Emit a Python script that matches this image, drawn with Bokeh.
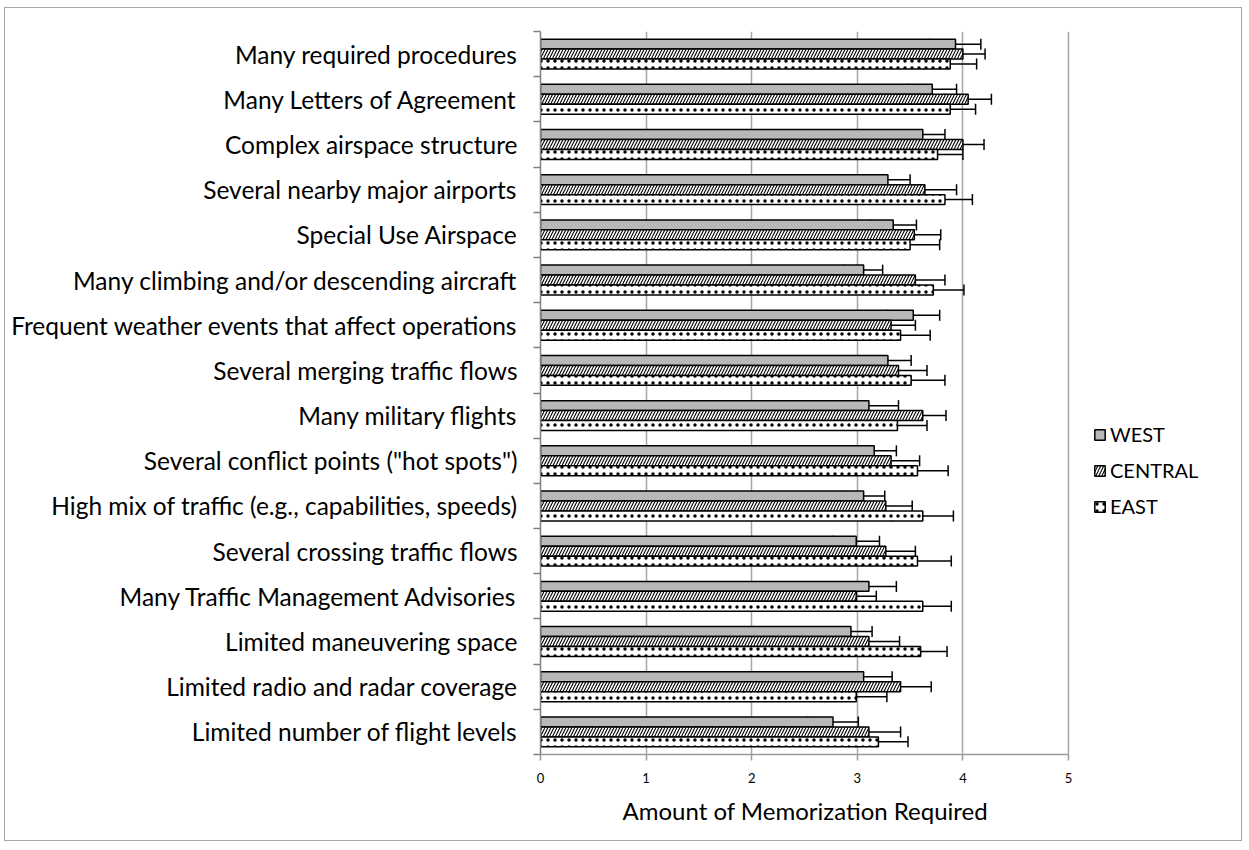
import numpy as np
from bokeh.plotting import figure
from bokeh.models import (ColumnDataSource, Range1d, FixedTicker, Whisker, TeeHead,
                          Legend, LegendItem, Title)
from bokeh.embed import file_html
from bokeh.resources import INLINE

categories = [
    "Many required procedures",
    "Many Letters of Agreement",
    "Complex airspace structure",
    "Several nearby major airports",
    "Special Use Airspace",
    "Many climbing and/or descending aircraft",
    "Frequent weather events that affect operations",
    "Several merging traffic flows",
    "Many military flights",
    "Several conflict points (\"hot spots\")",
    "High mix of traffic (e.g., capabilities, speeds)",
    "Several crossing traffic flows",
    "Many Traffic Management Advisories",
    "Limited maneuvering space",
    "Limited radio and radar coverage",
    "Limited number of flight levels",
]

series_names = ["WEST", "CENTRAL", "EAST"]

west = [3.93, 3.71, 3.62, 3.29, 3.34, 3.06, 3.53, 3.29, 3.11, 3.16, 3.06, 2.99, 3.11, 2.94, 3.06, 2.77]
west_err = [0.24, 0.23, 0.21, 0.21, 0.22, 0.18, 0.25, 0.22, 0.28, 0.21, 0.20, 0.22, 0.26, 0.20, 0.27, 0.24]

central = [4.00, 4.05, 4.00, 3.64, 3.54, 3.55, 3.32, 3.39, 3.62, 3.32, 3.27, 3.27, 2.99, 3.11, 3.41, 3.11]
central_err = [0.21, 0.22, 0.20, 0.30, 0.25, 0.28, 0.23, 0.27, 0.22, 0.27, 0.25, 0.28, 0.19, 0.29, 0.29, 0.30]

east = [3.88, 3.88, 3.76, 3.83, 3.50, 3.72, 3.41, 3.51, 3.38, 3.57, 3.62, 3.57, 3.62, 3.60, 2.99, 3.20]
east_err = [0.25, 0.24, 0.24, 0.26, 0.28, 0.29, 0.28, 0.32, 0.28, 0.29, 0.29, 0.32, 0.27, 0.25, 0.29, 0.28]

x_ticks = [0, 1, 2, 3, 4, 5]
x_title = "Amount of Memorization Required"

FONT = "Lato"
n = len(categories)
centers = np.arange(n)[::-1].astype(float)  # top category at highest y
bar_h = 0.22
offsets = [bar_h, 0.0, -bar_h]

FIG_W, FIG_H = 1238, 834
LEFT, RIGHT, TOP, BOTTOM = 535, 5, 23, 88
AXIS_PX = 528  # pixel length of the 0..5 axis
frame_w = FIG_W - LEFT - RIGHT
x_end = x_ticks[-1] * frame_w / AXIS_PX

p = figure(width=FIG_W, height=FIG_H, output_backend="svg", toolbar_location=None,
           x_range=Range1d(0, x_end), y_range=Range1d(-0.5, n - 0.5),
           min_border_left=LEFT, min_border_right=RIGHT, min_border_top=TOP,
           min_border_bottom=BOTTOM)
p.outline_line_color = None
p.background_fill_color = "white"
p.border_fill_color = "white"
p.styles = {"border": "1px solid #a6a6a6", "margin-left": "4px", "margin-top": "7px"}

# grid
p.xgrid.ticker = FixedTicker(ticks=x_ticks[1:])
p.xgrid.grid_line_color = "#a6a6a6"
p.xgrid.grid_line_width = 1.5
p.ygrid.grid_line_color = None

# x axis
p.xaxis.ticker = FixedTicker(ticks=x_ticks)
p.xaxis.bounds = (x_ticks[0], x_ticks[-1])
p.xaxis.axis_line_color = "#9a9a9a"
p.xaxis.axis_line_width = 1.5
p.xaxis.major_tick_line_color = "#9a9a9a"
p.xaxis.major_tick_line_width = 1.5
p.xaxis.major_tick_out = 6
p.xaxis.major_tick_in = 0
p.xaxis.minor_tick_line_color = None
p.xaxis.major_label_text_font = FONT
p.xaxis.major_label_text_font_size = "13px"
p.xaxis.major_label_text_color = "black"
p.xaxis.major_label_standoff = 12

# x axis title, centred under the 0..5 span
title_w = 364
xt = Title(text=x_title, align="left", offset=AXIS_PX / 2 - title_w / 2,
           text_font=FONT, text_font_size="24px", text_font_style="normal",
           text_color="black", standoff=17)
p.add_layout(xt, "below")

# y axis: labels at centers, tick marks at category boundaries
boundaries = list(np.arange(n + 1) - 0.5)
p.yaxis.ticker = FixedTicker(ticks=list(centers), minor_ticks=boundaries)
p.yaxis.major_label_overrides = {float(c): categories[i] for i, c in enumerate(centers)}
p.yaxis.major_tick_line_color = None
p.yaxis.major_tick_out = 0
p.yaxis.major_tick_in = 0
p.yaxis.minor_tick_line_color = "#808080"
p.yaxis.minor_tick_line_width = 1.5
p.yaxis.minor_tick_out = 7
p.yaxis.minor_tick_in = 0
p.yaxis.axis_line_color = "#808080"
p.yaxis.axis_line_width = 1.5
p.yaxis.major_label_text_font = FONT
p.yaxis.major_label_text_font_size = "24.5px"
p.yaxis.major_label_text_color = "black"
p.yaxis.major_label_standoff = 16

styles = [
    dict(fill_color="#b8b8b8"),
    dict(fill_color="white", hatch_pattern="right_diagonal_line", hatch_color="black",
         hatch_scale=6, hatch_weight=1.1),
    dict(fill_color="white", hatch_pattern="dot", hatch_color="black",
         hatch_scale=7, hatch_weight=1.5),
]

all_vals = [west, central, east]
all_errs = [west_err, central_err, east_err]
items = []
for k, (name, vals, errs) in enumerate(zip(series_names, all_vals, all_errs)):
    v = np.array(vals)
    e = np.array(errs)
    src = ColumnDataSource(dict(y=centers + offsets[k], x=v, lo=v - e, hi=v + e))
    r = p.hbar(y="y", right="x", left=0, height=bar_h, source=src,
               line_color="black", line_width=1.5, **styles[k])
    w = Whisker(source=src, base="y", lower="lo", upper="hi", dimension="width",
                line_color="black", line_width=1.5,
                upper_head=TeeHead(size=11, line_color="black", line_width=1.5),
                lower_head=TeeHead(size=11, line_color="black", line_width=1.5))
    p.add_layout(w)
    items.append(LegendItem(label=name, renderers=[r]))

legend = Legend(items=items, location=(553, 236), orientation="vertical",
                border_line_color=None, background_fill_alpha=0,
                label_text_font=FONT, label_text_font_size="20px",
                label_text_color="black", glyph_width=13, glyph_height=13,
                spacing=12, padding=0, margin=0, label_standoff=4)
p.add_layout(legend, "center")

open("out.html", "w").write(file_html(p, INLINE))
